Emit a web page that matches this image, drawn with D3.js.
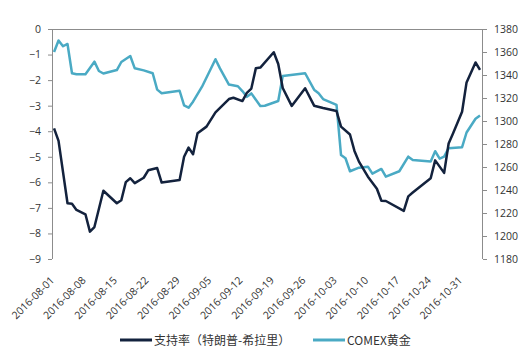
<!DOCTYPE html>
<html>
<head>
<meta charset="utf-8">
<script src="https://cdn.jsdelivr.net/npm/d3@7"></script>
<style>
  body { margin: 0; background: #fff; }
  svg { display: block; }
  .tick-label { font-family: "Open Sans", sans-serif; font-size: 10.5px; fill: #333; }
  .legend-label { font-family: "Noto Sans CJK SC", "Open Sans", sans-serif; font-size: 12px; fill: #333; }
</style>
</head>
<body>
<div id="chart"></div>
<script>
// 支持率（特朗普-希拉里） at its vertices
const supportDates = [
  '2016-08-01', '2016-08-02', '2016-08-04', '2016-08-05', '2016-08-06', '2016-08-08', '2016-08-09', '2016-08-10',
  '2016-08-12', '2016-08-15', '2016-08-16', '2016-08-17', '2016-08-18', '2016-08-19', '2016-08-21', '2016-08-22',
  '2016-08-24', '2016-08-25', '2016-08-29', '2016-08-30', '2016-08-31', '2016-09-01', '2016-09-02', '2016-09-04',
  '2016-09-06', '2016-09-09', '2016-09-10', '2016-09-12', '2016-09-13', '2016-09-14', '2016-09-15', '2016-09-16',
  '2016-09-19', '2016-09-20', '2016-09-21', '2016-09-23', '2016-09-26', '2016-09-28', '2016-09-30', '2016-10-03',
  '2016-10-04', '2016-10-06', '2016-10-07', '2016-10-08', '2016-10-10', '2016-10-12', '2016-10-13', '2016-10-14',
  '2016-10-18', '2016-10-19', '2016-10-20', '2016-10-24', '2016-10-25', '2016-10-27', '2016-10-28', '2016-10-29',
  '2016-10-31', '2016-11-01', '2016-11-03', '2016-11-04'
];
const supportValues = [
  -3.89, -4.38, -6.82, -6.84, -7.08, -7.25, -7.93, -7.75,
  -6.33, -6.82, -6.70, -5.99, -5.84, -6.03, -5.82, -5.53,
  -5.44, -6.01, -5.91, -5.00, -4.64, -4.90, -4.08, -3.82,
  -3.26, -2.74, -2.69, -2.82, -2.50, -2.33, -1.54, -1.51,
  -0.91, -1.37, -2.31, -3.01, -2.32, -3.00, -3.09, -3.21,
  -3.82, -4.13, -4.77, -5.19, -5.78, -6.25, -6.72, -6.73,
  -7.12, -6.55, -6.40, -5.84, -5.14, -5.63, -4.48, -4.08,
  -3.24, -2.09, -1.31, -1.60
];

// COMEX黄金
const goldDates = [
  '2016-08-01', '2016-08-02', '2016-08-03', '2016-08-04', '2016-08-05', '2016-08-06', '2016-08-08', '2016-08-10',
  '2016-08-11', '2016-08-12', '2016-08-15', '2016-08-16', '2016-08-18', '2016-08-19', '2016-08-21', '2016-08-23',
  '2016-08-24', '2016-08-25', '2016-08-29', '2016-08-30', '2016-08-31', '2016-09-01', '2016-09-03', '2016-09-06',
  '2016-09-07', '2016-09-09', '2016-09-11', '2016-09-12', '2016-09-13', '2016-09-14', '2016-09-16', '2016-09-17',
  '2016-09-20', '2016-09-21', '2016-09-26', '2016-09-28', '2016-09-29', '2016-09-30', '2016-10-03', '2016-10-04',
  '2016-10-05', '2016-10-06', '2016-10-08', '2016-10-10', '2016-10-11', '2016-10-13', '2016-10-14', '2016-10-17',
  '2016-10-19', '2016-10-20', '2016-10-24', '2016-10-25', '2016-10-26', '2016-10-27', '2016-10-28', '2016-10-31',
  '2016-11-01', '2016-11-03', '2016-11-04'
];
const goldValues = [
  1360, 1370, 1365, 1367, 1341.5, 1340.6, 1340.7, 1351.6,
  1343.5, 1341.3, 1344.3, 1351.3, 1356.5, 1345.8, 1344, 1341.5,
  1327.3, 1324.2, 1326.3, 1313.5, 1311.6, 1316.8, 1329.8, 1353.7,
  1345.8, 1331.7, 1330.2, 1326, 1321, 1324, 1313, 1313.3,
  1317.4, 1339.1, 1341.5, 1327.2, 1324.1, 1319.1, 1314, 1270.4,
  1267.6, 1256.3, 1259.4, 1260.3, 1254.2, 1258.3, 1251.6, 1256.3,
  1269, 1266.1, 1264.7, 1273.7, 1267.2, 1269, 1276.4, 1277.2,
  1290, 1302, 1304.8
];

const xTickLabels = [
  '2016-08-01', '2016-08-08', '2016-08-15', '2016-08-22', '2016-08-29', '2016-09-05', '2016-09-12',
  '2016-09-19', '2016-09-26', '2016-10-03', '2016-10-10', '2016-10-17', '2016-10-24', '2016-10-31'
];
const leftTicks = [0, -1, -2, -3, -4, -5, -6, -7, -8, -9];
const rightTicks = [1380, 1360, 1340, 1320, 1300, 1280, 1260, 1240, 1220, 1200, 1180];
const seriesNames = ['支持率（特朗普-希拉里）', 'COMEX黄金'];

const width = 530, height = 351;
const margin = { top: 29, right: 47, bottom: 92, left: 52 };
const innerW = width - margin.left - margin.right;
const innerH = height - margin.top - margin.bottom;

const colors = { support: '#13223d', gold: '#4aaac4', axis: '#8c8c8c' };

const parse = d3.timeParse('%Y-%m-%d');

const svg = d3.select('#chart').append('svg')
  .attr('width', width)
  .attr('height', height);

const g = svg.append('g').attr('transform', `translate(${margin.left},${margin.top})`);

const x = d3.scaleTime()
  .domain([new Date(2016, 6, 31, 13), new Date(2016, 10, 4, 16)])
  .range([0, innerW]);
const yLeft = d3.scaleLinear().domain([-9, 0]).range([innerH, 0]);
const yRight = d3.scaleLinear().domain([1180, 1380]).range([innerH, 0]);

// axes
const leftAxis = g.append('g')
  .call(d3.axisLeft(yLeft).tickValues(leftTicks).tickSize(4).tickPadding(7).tickFormat(d3.format('d')));
const rightAxis = g.append('g')
  .attr('transform', `translate(${innerW},0)`)
  .call(d3.axisRight(yRight).tickValues(rightTicks).tickSize(4).tickPadding(7).tickFormat(d3.format('d')));

[leftAxis, rightAxis].forEach(a => {
  a.select('.domain').attr('stroke', colors.axis).attr('d', a === leftAxis
    ? `M0.5,0V${innerH}` : `M-0.5,0V${innerH}`);
  a.selectAll('.tick line').attr('stroke', colors.axis);
  a.selectAll('.tick text').attr('class', 'tick-label').attr('font-family', null).attr('font-size', null);
});

// category axis crossing at 0 (top)
g.append('line')
  .attr('x1', 0).attr('x2', innerW)
  .attr('y1', yLeft(0) + 0.5).attr('y2', yLeft(0) + 0.5)
  .attr('stroke', colors.axis);

// rotated date labels below the plot
g.append('g')
  .selectAll('text')
  .data(xTickLabels)
  .enter()
  .append('text')
  .attr('class', 'tick-label')
  .attr('text-anchor', 'end')
  .attr('transform', d => `translate(${x(parse(d)) + 1},${innerH + 22}) rotate(-45)`)
  .text(d => d);

// lines
const support = supportDates.map((d, i) => ({ date: parse(d), value: supportValues[i] }));
const gold = goldDates.map((d, i) => ({ date: parse(d), value: goldValues[i] }));

g.append('path')
  .datum(gold)
  .attr('fill', 'none')
  .attr('stroke', colors.gold)
  .attr('stroke-width', 2.5)
  .attr('stroke-linejoin', 'round')
  .attr('d', d3.line().x(d => x(d.date)).y(d => yRight(d.value)));

g.append('path')
  .datum(support)
  .attr('fill', 'none')
  .attr('stroke', colors.support)
  .attr('stroke-width', 2.5)
  .attr('stroke-linejoin', 'round')
  .attr('d', d3.line().x(d => x(d.date)).y(d => yLeft(d.value)));

// legend
const legend = svg.append('g').attr('transform', 'translate(0,340)');
const legendItems = [
  { name: seriesNames[0], color: colors.support, x: 120 },
  { name: seriesNames[1], color: colors.gold, x: 313 }
];
legendItems.forEach(item => {
  legend.append('line')
    .attr('x1', item.x).attr('x2', item.x + 32)
    .attr('y1', 0).attr('y2', 0)
    .attr('stroke', item.color)
    .attr('stroke-width', 3);
  legend.append('text')
    .attr('class', 'legend-label')
    .attr('x', item.x + 34)
    .attr('y', 4.5)
    .text(item.name);
});
</script>
</body>
</html>
